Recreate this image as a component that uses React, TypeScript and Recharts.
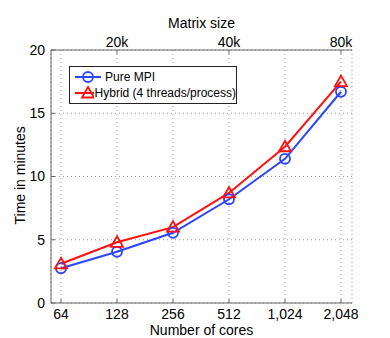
import {
  CartesianGrid,
  Line,
  LineChart,
  XAxis,
  YAxis,
} from "recharts";

document.body.style.margin = "0";

const cores = ["64", "128", "256", "512", "1,024", "2,048"];
const pureMpi = [2.75, 4.05, 5.55, 8.2, 11.4, 16.7];
const hybrid = [3.1, 4.8, 6.0, 8.7, 12.35, 17.5];
const matrixTicks = ["128", "512", "2,048"];
const matrixLabels = ["20k", "40k", "80k"];
const yTicks = [0, 5, 10, 15, 20];

const data = cores.map((c, i) => ({ cores: c, mpi: pureMpi[i], hybrid: hybrid[i] }));

const BLUE = "#2b45ff";
const RED = "#ff1010";
const FONT = "'Liberation Sans', Arial, sans-serif";

const Triangle = (props: any) => {
  const { cx, cy, stroke } = props;
  if (cx == null || cy == null) return null;
  const s = 6;
  return (
    <path
      d={`M${cx},${cy - s} L${cx + s},${cy + s * 0.75} L${cx - s},${cy + s * 0.75} Z`}
      fill="none"
      stroke={stroke}
      strokeWidth={1.8}
    />
  );
};

const LegendBox = () => (
  <div
    style={{
      position: "absolute",
      left: 69,
      top: 66,
      border: "1px solid #222",
      background: "#fff",
      width: 168,
      height: 38,
      fontFamily: FONT,
      fontSize: 12,
      padding: "2px 0",
      boxSizing: "border-box",
      whiteSpace: "nowrap",
    }}
  >
    {[
      { name: "Pure MPI", color: BLUE, mark: "circle" },
      { name: "Hybrid (4 threads/process)", color: RED, mark: "tri" },
    ].map((item) => (
      <div key={item.name} style={{ display: "flex", alignItems: "center", height: 16 }}>
        <svg width={34} height={16}>
          <line x1={5} x2={31} y1={8} y2={8} stroke={item.color} strokeWidth={2} />
          {item.mark === "circle" ? (
            <circle cx={18} cy={8} r={5} fill="none" stroke={item.color} strokeWidth={1.8} />
          ) : (
            <path d="M18,2 L24,12.5 L12,12.5 Z" fill="none" stroke={item.color} strokeWidth={1.8} />
          )}
        </svg>
        <span style={{ marginLeft: 1, color: "#000" }}>{item.name}</span>
      </div>
    ))}
  </div>
);

export default function App() {
  return (
    <div style={{ position: "relative", width: 390, height: 338 }}>
      <LineChart
        width={390}
        height={338}
        data={data}
        margin={{ top: 22, right: 38, bottom: 0, left: 21 }}
        style={{ fontFamily: FONT }}
      >
        <CartesianGrid xAxisId="bottom" yAxisId="left" stroke="#999" strokeDasharray="1 3" />
        <XAxis
          dataKey="cores"
          xAxisId="bottom"
          padding={{ left: 10, right: 11 }}
          height={35}
          tickSize={-4}
          tickMargin={10}
          tick={{ fill: "#000", fontSize: 14 }}
          stroke="#666"
          interval={0}
          label={{ value: "Number of cores", position: "insideBottom", offset: 3, fill: "#000", fontSize: 14 }}
        />
        <XAxis
          dataKey="cores"
          xAxisId="top"
          orientation="top"
          padding={{ left: 10, right: 11 }}
          height={28}
          ticks={matrixTicks}
          tickFormatter={(v: string) => matrixLabels[matrixTicks.indexOf(v)] ?? ""}
          tickSize={-4}
          tickMargin={7}
          tick={{ fill: "#000", fontSize: 14 }}
          stroke="#666"
          interval={0}
          label={{ value: "Matrix size", position: "top", offset: -6, fill: "#000", fontSize: 14 }}
        />
        <YAxis
          yAxisId="left"
          domain={[0, 20]}
          ticks={yTicks}
          width={30}
          tickSize={-4}
          tickMargin={10}
          tick={{ fill: "#000", fontSize: 14 }}
          stroke="#666"
          label={{ value: "Time in minutes", angle: -90, position: "insideLeft", offset: -1, dy: 48, fill: "#000", fontSize: 14 }}
        />
        <YAxis
          yAxisId="right"
          orientation="right"
          domain={[0, 20]}
          ticks={yTicks}
          width={0}
          tick={false}
          tickSize={-4}
          stroke="#666"
        />
        <Line
          xAxisId="bottom"
          yAxisId="left"
          dataKey="mpi"
          name="Pure MPI"
          stroke={BLUE}
          strokeWidth={2}
          dot={{ r: 5, fill: "none", stroke: BLUE, strokeWidth: 1.8 }}
          isAnimationActive={false}
        />
        <Line
          xAxisId="bottom"
          yAxisId="left"
          dataKey="hybrid"
          name="Hybrid (4 threads/process)"
          stroke={RED}
          strokeWidth={2}
          dot={<Triangle />}
          isAnimationActive={false}
        />
      </LineChart>
      <LegendBox />
    </div>
  );
}
